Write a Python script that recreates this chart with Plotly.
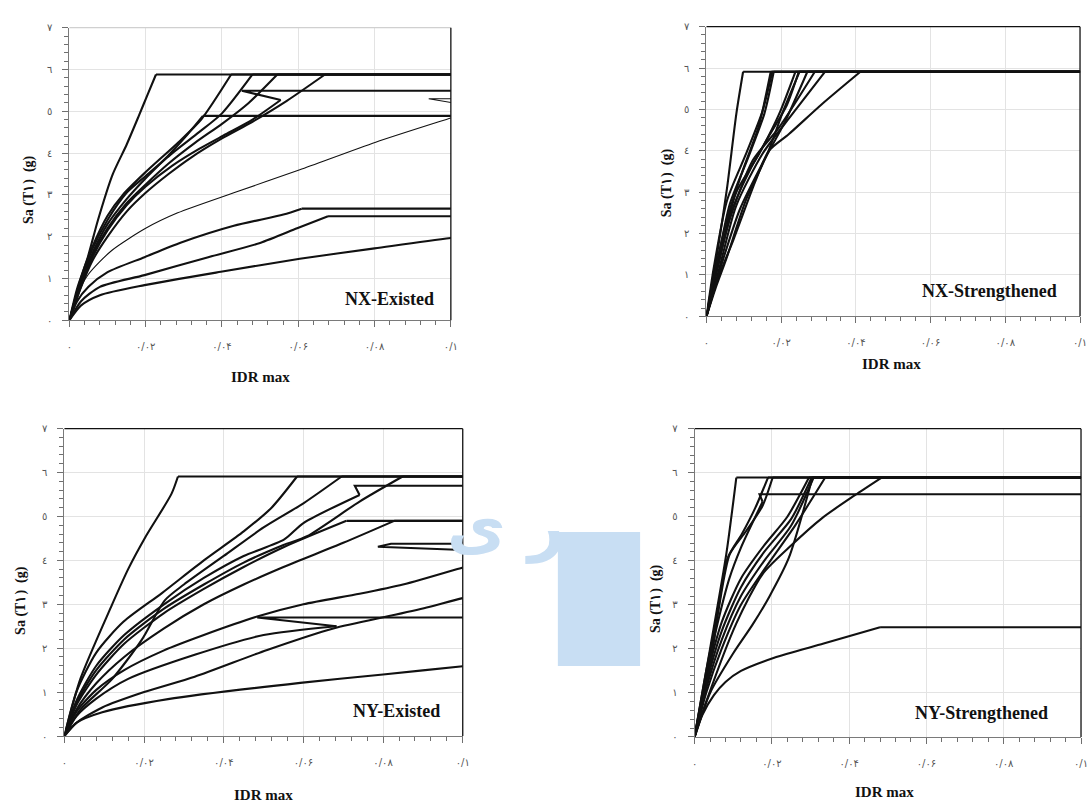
import plotly.graph_objects as go

W, H = 1090, 809

# ---------------- text / ticks ----------------
x_ticks = [0, 0.02, 0.04, 0.06, 0.08, 0.1]
x_tick_labels = ["۰", "۰/۰۲", "۰/۰۴", "۰/۰۶", "۰/۰۸", "۰/۱"]
y_ticks = [0, 1, 2, 3, 4, 5, 6, 7]
y_tick_labels = ["٠", "١", "٢", "٣", "٤", "٥", "٦", "٧"]
panel_names = ["NX-Existed", "NX-Strengthened", "NY-Existed", "NY-Strengthened"]
x_title = "IDR max"
y_title = "Sa (T۱)  (g)"
watermark_text = "ر ی"

# ---------------- data: NX-Existed ----------------
nxe_x = [
    [0, 0.002, 0.0048, 0.0075, 0.0113, 0.015, 0.0182, 0.0205, 0.0227, 0.15],
    [0, 0.003, 0.006, 0.01, 0.014, 0.0197, 0.0286, 0.0346, 0.0424, 0.15],
    [0, 0.003, 0.006, 0.01, 0.015, 0.02, 0.027, 0.034, 0.04, 0.048, 0.15],
    [0, 0.003, 0.006, 0.01, 0.015, 0.02, 0.026, 0.031, 0.035, 0.15],
    [0, 0.003, 0.006, 0.01, 0.015, 0.02, 0.026, 0.033, 0.04, 0.047, 0.0545, 0.15],
    [0, 0.003, 0.006, 0.01, 0.015, 0.02, 0.027, 0.034, 0.041, 0.048, 0.0554, 0.0452, 0.15],
    [0, 0.003, 0.006, 0.01, 0.015, 0.02, 0.026, 0.032, 0.04, 0.048, 0.057, 0.067, 0.15],
    [0, 0.002, 0.005, 0.0111, 0.02, 0.0284, 0.0431, 0.0604, 0.0803, 0.1, 0.1083, 0.0942, 0.15],
    [0, 0.002, 0.005, 0.01, 0.0197, 0.0293, 0.0431, 0.0561, 0.0609, 0.15],
    [0, 0.003, 0.008, 0.0197, 0.0364, 0.05, 0.0597, 0.0678, 0.15],
    [0, 0.003, 0.008, 0.0197, 0.0397, 0.0604, 0.08, 0.1, 0.15],
]
nxe_y = [
    [0, 0.75, 1.5, 2.4, 3.48, 4.2, 4.89, 5.4, 5.88, 5.88],
    [0, 1.0, 1.75, 2.5, 3.0, 3.52, 4.26, 4.81, 5.88, 5.88],
    [0, 0.95, 1.7, 2.4, 3.05, 3.45, 4.0, 4.5, 4.95, 5.88, 5.88],
    [0, 0.9, 1.6, 2.3, 2.9, 3.4, 3.95, 4.45, 4.89, 4.89],
    [0, 0.85, 1.55, 2.2, 2.8, 3.25, 3.75, 4.25, 4.7, 5.2, 5.88, 5.88],
    [0, 0.8, 1.5, 2.15, 2.75, 3.2, 3.7, 4.1, 4.45, 4.8, 5.27, 5.49, 5.49],
    [0, 0.78, 1.42, 2.0, 2.6, 3.05, 3.5, 3.9, 4.35, 4.75, 5.25, 5.88, 5.88],
    [0, 0.6, 1.1, 1.67, 2.2, 2.57, 3.05, 3.6, 4.26, 4.84, 5.08, 5.3, 5.3],
    [0, 0.45, 0.8, 1.15, 1.51, 1.86, 2.26, 2.53, 2.67, 2.67],
    [0, 0.45, 0.8, 1.08, 1.51, 1.85, 2.2, 2.49, 2.49],
    [0, 0.35, 0.6, 0.84, 1.16, 1.47, 1.72, 1.97, 2.45],
]

# ---------------- data: NX-Strengthened ----------------
nxs_x = [
    [0, 0.003, 0.0055, 0.008, 0.0098, 0.15],
    [0, 0.002, 0.0055, 0.0106, 0.015, 0.0176, 0.15],
    [0, 0.0025, 0.0062, 0.011, 0.0155, 0.018, 0.15],
    [0, 0.003, 0.0079, 0.0141, 0.0194, 0.0238, 0.15],
    [0, 0.0025, 0.0053, 0.0106, 0.0163, 0.0207, 0.0249, 0.15],
    [0, 0.003, 0.007, 0.012, 0.017, 0.0215, 0.0247, 0.15],
    [0, 0.0025, 0.0062, 0.0124, 0.0194, 0.029, 0.15],
    [0, 0.003, 0.0079, 0.015, 0.0229, 0.0317, 0.15],
    [0, 0.003, 0.007, 0.0132, 0.0167, 0.022, 0.0308, 0.0412, 0.15],
    [0, 0.003, 0.006, 0.01, 0.014, 0.0172, 0.15],
    [0, 0.0035, 0.009, 0.015, 0.021, 0.027, 0.15],
]
nxs_y = [
    [0, 1.6, 3.1, 4.9, 5.91, 5.91],
    [0, 1.2, 2.8, 3.93, 4.96, 5.91, 5.91],
    [0, 1.1, 2.7, 3.8, 4.9, 5.91, 5.91],
    [0, 1.2, 2.98, 3.93, 4.88, 5.91, 5.91],
    [0, 0.7, 1.39, 2.82, 3.93, 5.0, 5.91, 5.91],
    [0, 1.2, 2.6, 3.6, 4.4, 5.1, 5.91, 5.91],
    [0, 1.0, 2.34, 3.77, 4.56, 5.91, 5.91],
    [0, 1.0, 2.66, 3.93, 4.88, 5.91, 5.91],
    [0, 0.9, 1.8, 3.29, 4.0, 4.4, 5.12, 5.91, 5.91],
    [0, 1.4, 2.5, 3.6, 4.6, 5.91, 5.91],
    [0, 1.1, 2.6, 3.7, 4.7, 5.91, 5.91],
]

# ---------------- data: NY-Existed ----------------
nye_x = [
    [0, 0.004, 0.0119, 0.016, 0.0202, 0.0269, 0.0285, 0.15],
    [0, 0.003, 0.008, 0.0148, 0.0244, 0.035, 0.045, 0.052, 0.0584, 0.15],
    [0, 0.004, 0.0119, 0.0194, 0.0252, 0.03, 0.04, 0.05, 0.06, 0.0696, 0.15],
    [0, 0.003, 0.008, 0.015, 0.025, 0.035, 0.045, 0.055, 0.0609, 0.0741, 0.0849, 0.15],
    [0, 0.003, 0.008, 0.015, 0.025, 0.035, 0.045, 0.0551, 0.06, 0.0741, 0.0729, 0.15],
    [0, 0.003, 0.008, 0.015, 0.025, 0.035, 0.045, 0.055, 0.0708, 0.15],
    [0, 0.003, 0.008, 0.015, 0.025, 0.035, 0.045, 0.055, 0.07, 0.0828, 0.15],
    [0, 0.003, 0.008, 0.015, 0.025, 0.035, 0.0484, 0.06, 0.0741, 0.085, 0.1, 0.1129, 0.0787, 0.082, 0.15],
    [0, 0.003, 0.008, 0.016, 0.0327, 0.05, 0.0683, 0.0484, 0.15],
    [0, 0.003, 0.0095, 0.02, 0.0327, 0.0509, 0.0675, 0.0824, 0.0915, 0.1, 0.12],
    [0, 0.003, 0.0095, 0.026, 0.0592, 0.08, 0.1, 0.12],
]
nye_y = [
    [0, 1.3, 2.98, 3.8, 4.51, 5.52, 5.91, 5.91],
    [0, 1.0, 1.9, 2.6, 3.25, 4.0, 4.66, 5.2, 5.91, 5.91],
    [0, 0.6, 1.29, 2.19, 3.09, 3.45, 4.1, 4.75, 5.3, 5.91, 5.91],
    [0, 0.75, 1.5, 2.2, 2.9, 3.45, 3.95, 4.35, 4.55, 5.34, 5.91, 5.91],
    [0, 0.8, 1.6, 2.3, 3.0, 3.6, 4.1, 4.47, 4.85, 5.49, 5.7, 5.7],
    [0, 0.7, 1.4, 2.1, 2.8, 3.35, 3.85, 4.3, 4.9, 4.9],
    [0, 0.6, 1.2, 1.8, 2.45, 3.0, 3.45, 3.85, 4.4, 4.9, 4.9],
    [0, 0.55, 1.05, 1.5, 1.95, 2.3, 2.72, 3.0, 3.24, 3.45, 3.84, 4.19, 4.31, 4.38, 4.38],
    [0, 0.45, 0.85, 1.3, 1.85, 2.3, 2.5, 2.7, 2.7],
    [0, 0.3, 0.65, 1.0, 1.35, 1.96, 2.45, 2.75, 2.94, 3.14, 3.5],
    [0, 0.3, 0.54, 0.84, 1.21, 1.4, 1.59, 1.78],
]

# ---------------- data: NY-Strengthened ----------------
nys_x = [
    [0, 0.004, 0.0082, 0.0108, 0.15],
    [0, 0.003, 0.006, 0.0091, 0.0133, 0.0176, 0.0202, 0.15],
    [0, 0.003, 0.006, 0.009, 0.012, 0.0176, 0.0168, 0.15],
    [0, 0.003, 0.007, 0.012, 0.018, 0.024, 0.0296, 0.15],
    [0, 0.003, 0.007, 0.012, 0.018, 0.025, 0.0303, 0.15],
    [0, 0.003, 0.007, 0.012, 0.018, 0.025, 0.0308, 0.15],
    [0, 0.004, 0.01, 0.015, 0.0193, 0.0244, 0.0305, 0.15],
    [0, 0.003, 0.007, 0.012, 0.018, 0.026, 0.0338, 0.15],
    [0, 0.003, 0.0108, 0.0176, 0.0244, 0.033, 0.0415, 0.0484, 0.15],
    [0, 0.002, 0.005, 0.008, 0.012, 0.0206, 0.0334, 0.048, 0.15],
    [0, 0.004, 0.0085, 0.0122, 0.0157, 0.019, 0.15],
]
nys_y = [
    [0, 2.0, 4.15, 5.89, 5.89],
    [0, 1.5, 2.8, 4.15, 4.67, 5.25, 5.89, 5.89],
    [0, 1.4, 2.6, 3.6, 4.3, 5.34, 5.51, 5.51],
    [0, 1.3, 2.6, 3.6, 4.35, 5.0, 5.89, 5.89],
    [0, 1.2, 2.4, 3.4, 4.2, 4.95, 5.89, 5.89],
    [0, 1.1, 2.2, 3.2, 4.0, 4.8, 5.89, 5.89],
    [0, 1.0, 1.9, 2.55, 3.18, 4.07, 5.89, 5.89],
    [0, 1.0, 2.0, 3.0, 3.8, 4.8, 5.89, 5.89],
    [0, 0.8, 2.58, 3.7, 4.3, 4.97, 5.49, 5.89, 5.89],
    [0, 0.5, 0.95, 1.25, 1.5, 1.8, 2.12, 2.49, 2.49],
    [0, 1.6, 4.05, 4.6, 5.2, 5.89, 5.89],
]

panel_data = [(nxe_x, nxe_y), (nxs_x, nxs_y), (nye_x, nye_y), (nys_x, nys_y)]

# ---------------- layout geometry (pixels) ----------------
boxes = [(67, 452, 22, 319), (710, 1087, 21, 315), (62, 464, 429, 741), (698, 1088, 429, 742)]
xtitle_pos = [(260, 377), (897, 363), (263, 801), (890, 798)]
ytitle_pos = [(26, 186), (670, 179), (18, 603), (659, 601)]
label_pos = [(390, 297), (996, 289), (397, 716), (988, 718)]


def px(x):
    return x / W


def py(y):
    return 1 - y / H


def curve_end(xs, ys):
    """index where the smooth rising part ends (start of plateau / turn-back)"""
    for k in range(1, len(xs) - 1):
        if xs[k + 1] < xs[k] or abs(ys[k + 1] - ys[k]) < 1e-9:
            return k
    return len(xs) - 1


x_alias = {("0" if v == 0 else f"{v:g}"): t for v, t in zip(x_ticks, x_tick_labels)}
y_alias = {str(v): t for v, t in zip(y_ticks, y_tick_labels)}

fig = go.Figure()
shapes = []
annotations = []
for i, ((xs, ys), (l, r, t, b)) in enumerate(zip(panel_data, boxes)):
    n = "" if i == 0 else str(i + 1)
    for j, (cx, cy) in enumerate(zip(xs, ys)):
        thin = (i == 0 and j == 7)
        w = 1.1 if thin else 2.1
        k = curve_end(cx, cy)
        fig.add_trace(go.Scatter(
            x=cx[:k + 1], y=cy[:k + 1], mode="lines", xaxis="x" + n, yaxis="y" + n,
            line=dict(color="#111111", width=w, shape="spline", smoothing=0.7),
            showlegend=False, hoverinfo="skip"))
        if k < len(cx) - 1:
            fig.add_trace(go.Scatter(
                x=cx[k:], y=cy[k:], mode="lines", xaxis="x" + n, yaxis="y" + n,
                line=dict(color="#111111", width=w),
                showlegend=False, hoverinfo="skip"))
    axstyle = dict(showline=True, linecolor="#7a7a7a", linewidth=1, ticks="outside",
                   ticklen=6, tickcolor="#6f6f6f", tickwidth=1, showgrid=True,
                   gridcolor="#e3e3e3", gridwidth=1, zeroline=False, fixedrange=True,
                   tickfont=dict(family="DejaVu Sans", size=10, color="#555555"))
    fig.update_layout(**{
        "xaxis" + n: dict(axstyle, domain=[px(l), px(r)], range=[0, 0.1], tickmode="linear",
                          tick0=0, dtick=0.02, labelalias=x_alias, anchor="y" + n,
                          ticklabelstandoff=11,
                          minor=dict(tickmode="linear", tick0=0, dtick=0.004, ticks="outside",
                                     ticklen=4, tickcolor="#6f6f6f", tickwidth=1,
                                     showgrid=False)),
        "yaxis" + n: dict(axstyle, domain=[py(b), py(t)], range=[0, 7], tickmode="linear",
                          tick0=0, dtick=1, labelalias=y_alias, anchor="x" + n,
                          ticklabelstandoff=8,
                          minor=dict(tickmode="linear", tick0=0, dtick=0.2, ticks="outside",
                                     ticklen=4, tickcolor="#6f6f6f", tickwidth=1,
                                     showgrid=False)),
    })
    # frame lines (top and right)
    top_col = "#d0d0d0" if i == 0 else "#111111"
    shapes.append(dict(type="line", xref="paper", yref="paper", x0=px(l), x1=px(r),
                       y0=py(t), y1=py(t), line=dict(color=top_col, width=1.3)))
    shapes.append(dict(type="line", xref="paper", yref="paper", x0=px(r), x1=px(r),
                       y0=py(t), y1=py(b), line=dict(color="#111111", width=1.3)))
    annotations.append(dict(x=px(xtitle_pos[i][0]), y=py(xtitle_pos[i][1]), xref="paper",
                            yref="paper", text="<b>" + x_title + "</b>", showarrow=False,
                            xanchor="center", yanchor="middle",
                            font=dict(family="Liberation Serif", size=15, color="#111111")))
    annotations.append(dict(x=px(ytitle_pos[i][0]), y=py(ytitle_pos[i][1]), xref="paper",
                            yref="paper", text="<b>" + y_title + "</b>", showarrow=False,
                            textangle=-90, xanchor="center", yanchor="middle",
                            font=dict(family="Liberation Serif", size=14, color="#111111")))
    annotations.append(dict(x=px(label_pos[i][0]), y=py(label_pos[i][1]), xref="paper",
                            yref="paper", text="<b>" + panel_names[i] + "</b>",
                            showarrow=False, xanchor="center", yanchor="middle",
                            font=dict(family="Liberation Serif", size=18, color="#111111")))

# light-blue watermark (background decoration of the source image)
shapes.append(dict(type="rect", xref="paper", yref="paper", x0=px(560), x1=px(643),
                   y0=py(670), y1=py(534), fillcolor="#c8def3", line=dict(width=0),
                   layer="below"))
annotations.append(dict(x=px(508), y=py(568), xref="paper", yref="paper",
                        text="<b>" + watermark_text + "</b>", showarrow=False,
                        font=dict(family="DejaVu Sans", size=64, color="#c8def3")))

fig.update_layout(width=W, height=H, margin=dict(l=0, r=0, t=0, b=0),
                  paper_bgcolor="white", plot_bgcolor="white",
                  shapes=shapes, annotations=annotations)

fig.write_html("out.html", config={"displayModeBar": False},
               post_script="document.body.style.margin='0';")
